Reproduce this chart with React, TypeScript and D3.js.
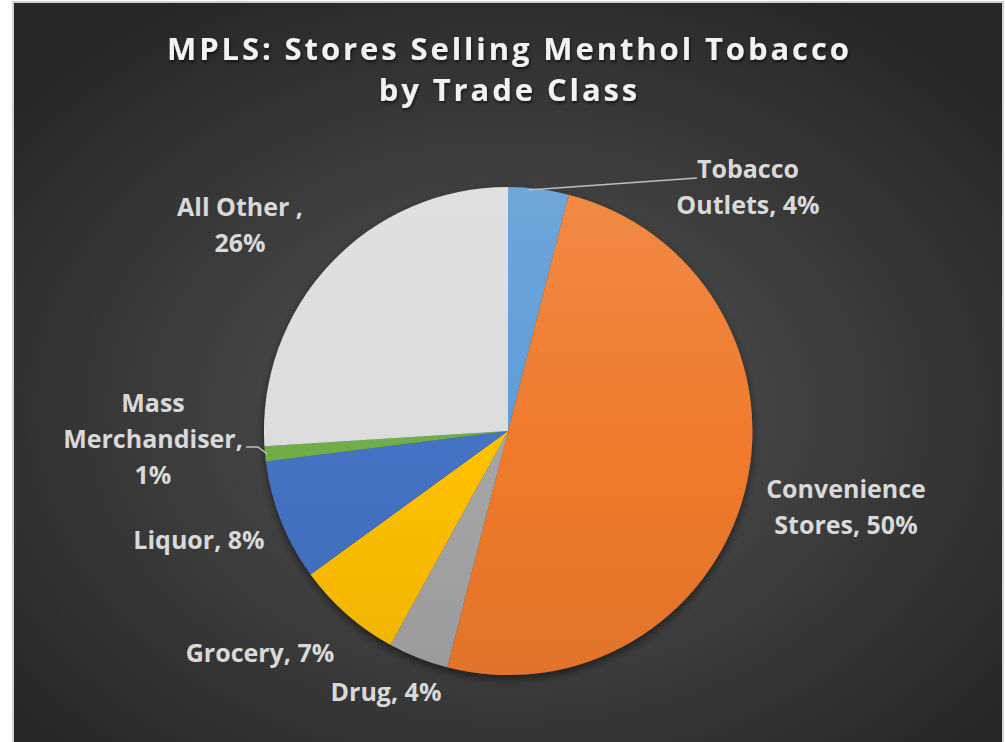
import React from "react";
import * as d3 from "d3";

const categories = ["Tobacco Outlets", "Convenience Stores", "Drug", "Grocery", "Liquor", "Mass Merchandiser", "All Other"];
const values = [4, 50, 4, 7, 8, 1, 26];
const colors = ["#5B9BD5", "#EF7A2C", "#A5A5A5", "#FFC000", "#4472C4", "#70AD47", "#DCDCDC"];
const labelLines = [
  ["Tobacco", "Outlets, 4%"],
  ["Convenience", "Stores, 50%"],
  ["Drug, 4%"],
  ["Grocery, 7%"],
  ["Liquor, 8%"],
  ["Mass", "Merchandiser,", "1%"],
  ["All Other ,", "26%"],
];
const labelPos: [number, number][] = [
  [748, 178],
  [846, 498],
  [386, 701],
  [260, 662],
  [199, 549],
  [153, 412],
  [240, 216],
];

const W = 1005;
const H = 742;
const cx = 508;
const cy = 431;
const R = 244;

export default function App() {
  const pie = d3.pie<number>().sort(null).value((d) => d);
  const arcs = pie(values);
  const arcGen = d3.arc<d3.PieArcDatum<number>>().innerRadius(0).outerRadius(R);
  const font = "'Open Sans', Lato, sans-serif";

  const edgePoint = (i: number, r: number) => {
    const a = (arcs[i].startAngle + arcs[i].endAngle) / 2;
    return [cx + r * Math.sin(a), cy - r * Math.cos(a)];
  };
  const tob = edgePoint(0, R);
  const mass = edgePoint(5, R);
  const ls = 2.9;

  return (
    <div style={{ position: "fixed", left: 0, top: 0 }}>
      <svg width={W} height={H} style={{ display: "block" }}>
        <defs>
          <radialGradient id="bg" cx="50%" cy="55%" r="65%">
            <stop offset="0%" stopColor="#555555" />
            <stop offset="100%" stopColor="#262626" />
          </radialGradient>
          {colors.map((c, i) => (
            <linearGradient key={i} id={`g${i}`} gradientUnits="userSpaceOnUse" x1={0} y1={-R} x2={0} y2={R}>
              <stop offset="0%" stopColor={d3.interpolateRgb(c, "#ffffff")(0.12)} />
              <stop offset="55%" stopColor={c} />
              <stop offset="100%" stopColor={d3.interpolateRgb(c, "#000000")(0.06)} />
            </linearGradient>
          ))}
          <filter id="sh" x="-20%" y="-20%" width="140%" height="140%">
            <feDropShadow dx="0" dy="4" stdDeviation="4" floodColor="#000" floodOpacity="0.5" />
          </filter>
          <filter id="tsh" x="-10%" y="-30%" width="120%" height="160%">
            <feDropShadow dx="1" dy="2" stdDeviation="1.5" floodColor="#000" floodOpacity="0.6" />
          </filter>
        </defs>
        <rect x={0} y={0} width={W} height={H} fill="#ffffff" />
        <rect x={12} y={1} width={992} height={H} fill="#d0d0d0" />
        <rect x={14} y={3} width={988} height={H - 3} fill="url(#bg)" />
        <g filter="url(#tsh)" fill="#F2F2F2" fontFamily={font} fontWeight={700} fontSize={31} letterSpacing={ls}>
          <text x={508 + ls / 2} y={60} textAnchor="middle">
            MPLS: Stores Selling Menthol Tobacco
          </text>
          <text x={508 + ls / 2} y={101} textAnchor="middle">
            by Trade Class
          </text>
        </g>
        <g transform={`translate(${cx},${cy})`} filter="url(#sh)">
          {arcs.map((a, i) => (
            <path key={i} d={arcGen(a)!} fill={`url(#g${i})`} />
          ))}
        </g>
        <polyline points={`${tob[0] - 10},${tob[1] + 1} 697,178`} fill="none" stroke="#BFBFBF" strokeWidth={1.5} />
        <polyline points={`246,447 258,447 ${mass[0] + 2},${mass[1]}`} fill="none" stroke="#BFBFBF" strokeWidth={1.5} />
        {labelLines.map((lines, i) => (
          <text key={i} textAnchor="middle" fill="#D9D9D9" fontFamily={font} fontWeight={700} fontSize={25}>
            {lines.map((l, j) => (
              <tspan key={j} x={labelPos[i][0]} y={labelPos[i][1] + j * 36}>
                {l}
              </tspan>
            ))}
          </text>
        ))}
      </svg>
    </div>
  );
}
